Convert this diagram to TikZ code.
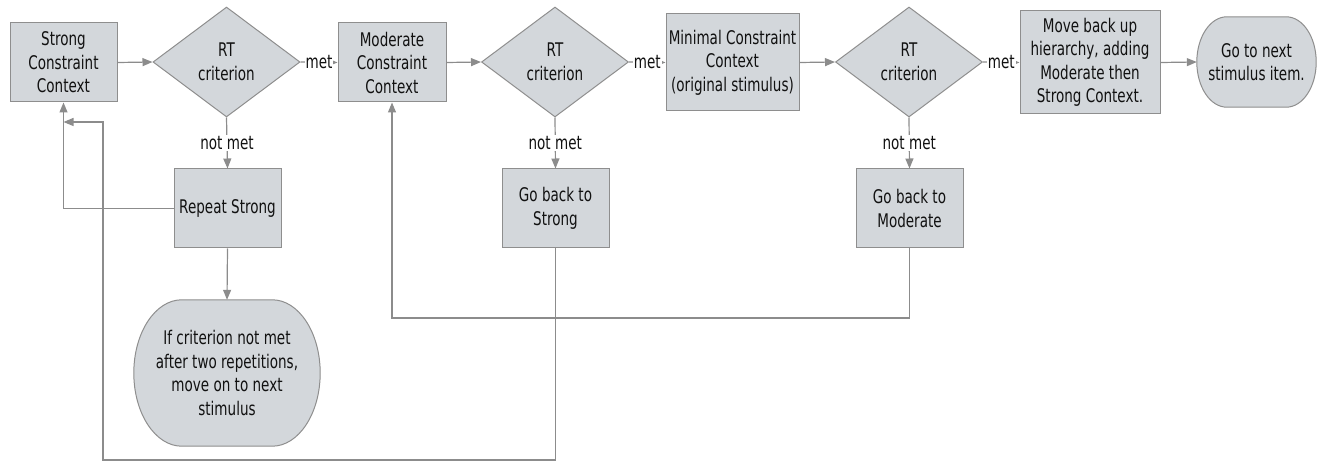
\documentclass[tikz,border=0pt]{standalone}
\usepackage{fontspec}
\setmainfont{DejaVu Sans}[FakeStretch=0.72]
\usetikzlibrary{shapes.geometric,arrows.meta,calc}
\pgfdeclarelayer{bg}
\pgfsetlayers{bg,main}
\definecolor{boxfill}{HTML}{D3D7DB}
\definecolor{boxline}{HTML}{8E8E8E}
\definecolor{connc}{HTML}{8C8C8C}
\definecolor{txt}{HTML}{111111}
\tikzset{
 base/.style={font=\fontsize{18.8}{23.5}\selectfont, text=txt, align=center, inner sep=0pt},
 procbox/.style={base, rectangle, draw=boxline, fill=boxfill, line width=1pt},
 decision/.style={base, diamond, draw=boxline, fill=boxfill, line width=1pt, minimum width=147pt, minimum height=110pt},
 termnode/.style={base, rectangle},
 termshape/.style={draw=boxline, fill=boxfill, line width=1pt},
 connector/.style={draw=connc, line width=1.2pt, -{Triangle[length=10pt,width=8pt]}},
 lab/.style={base, fill=white, inner sep=1pt},
}
\newcommand\drawterm[2]{%
\begin{pgfonlayer}{bg}
\path[termshape] let \p1=(#1.north west), \p2=(#1.south east), \p3=(#1.center) in
 (\x1+#2pt,\y1) -- (\x2-#2pt,\y1)
 .. controls (\x2-0.448*#2pt,\y1) and (\x2,{\y3+0.552*(\y1-\y3)}) .. (\x2,\y3)
 .. controls (\x2,{\y3-0.552*(\y1-\y3)}) and (\x2-0.448*#2pt,\y2) .. (\x2-#2pt,\y2)
 -- (\x1+#2pt,\y2)
 .. controls (\x1+0.448*#2pt,\y2) and (\x1,{\y3-0.552*(\y1-\y3)}) .. (\x1,\y3)
 .. controls (\x1,{\y3+0.552*(\y1-\y3)}) and (\x1+0.448*#2pt,\y1) .. cycle;
\end{pgfonlayer}}
\begin{document}
\begin{tikzpicture}[x=1pt,y=-1pt]
\useasboundingbox (0,0) rectangle (1324,462);
% top row
\node[procbox, minimum width=107pt, minimum height=79pt] (b1) at (63.5,62.5) {Strong\\Constraint\\Context};
\node[decision] (d1) at (226.5,62) {RT\\criterion};
\node[procbox, minimum width=108pt, minimum height=79pt] (b2) at (392,62.5) {Moderate\\Constraint\\Context};
\node[decision] (d2) at (555,62) {RT\\criterion};
\node[procbox, minimum width=133pt, minimum height=97pt] (b3) at (732.5,62.5) {Minimal Constraint\\Context\\(original stimulus)};
\node[decision] (d3) at (909,62) {RT\\criterion};
\node[procbox, minimum width=140pt, minimum height=103pt] (b4) at (1090,62.5) {Move back up\\hierarchy, adding\\Moderate then\\Strong Context.};
\node[termnode, minimum width=119pt, minimum height=90pt] (t1) at (1256.5,62) {Go to next\\stimulus item.};
\drawterm{t1}{30}
% second row
\node[procbox, minimum width=107pt, minimum height=79pt] (r1) at (227.5,208.5) {Repeat Strong};
\node[procbox, minimum width=107pt, minimum height=79pt] (g1) at (555.5,208.5) {Go back to\\Strong};
\node[procbox, minimum width=107pt, minimum height=79pt] (g2) at (909.5,208.5) {Go back to\\Moderate};
\node[termnode, minimum width=186pt, minimum height=146pt] (t2) at (227,373) {If criterion not met\\after two repetitions,\\move on to next\\stimulus};
\drawterm{t2}{48}
% helper coordinates
\coordinate (s1) at (103,460);
\coordinate (s2) at (103,122);
\coordinate (s3) at (392,318);
% connectors
\draw[connector] (b1.east) -- (d1.west);
\draw[connector] (d1.east) -- node[lab] {met} (b2.west);
\draw[connector] (b2.east) -- (d2.west);
\draw[connector] (d2.east) -- node[lab] {met} (b3.west);
\draw[connector] (b3.east) -- (d3.west);
\draw[connector] (d3.east) -- node[lab] {met} (b4.west);
\draw[connector] (b4.east) -- (t1.west);
\draw[connector] (d1.south) -- node[lab] {not met} (r1.north);
\draw[connector] (d2.south) -- node[lab] {not met} (g1.north);
\draw[connector] (d3.south) -- node[lab] {not met} (g2.north);
\draw[connector] (r1.west) -| (b1.south);
\draw[connector] (r1.south) -- (t2.north);
\draw[connector] (g1.south) |- (s1) -- (s2) -- (b1.south |- s2);
\draw[connector] (g2.south) |- (s3) -- (b2.south);
\end{tikzpicture}
\end{document}
